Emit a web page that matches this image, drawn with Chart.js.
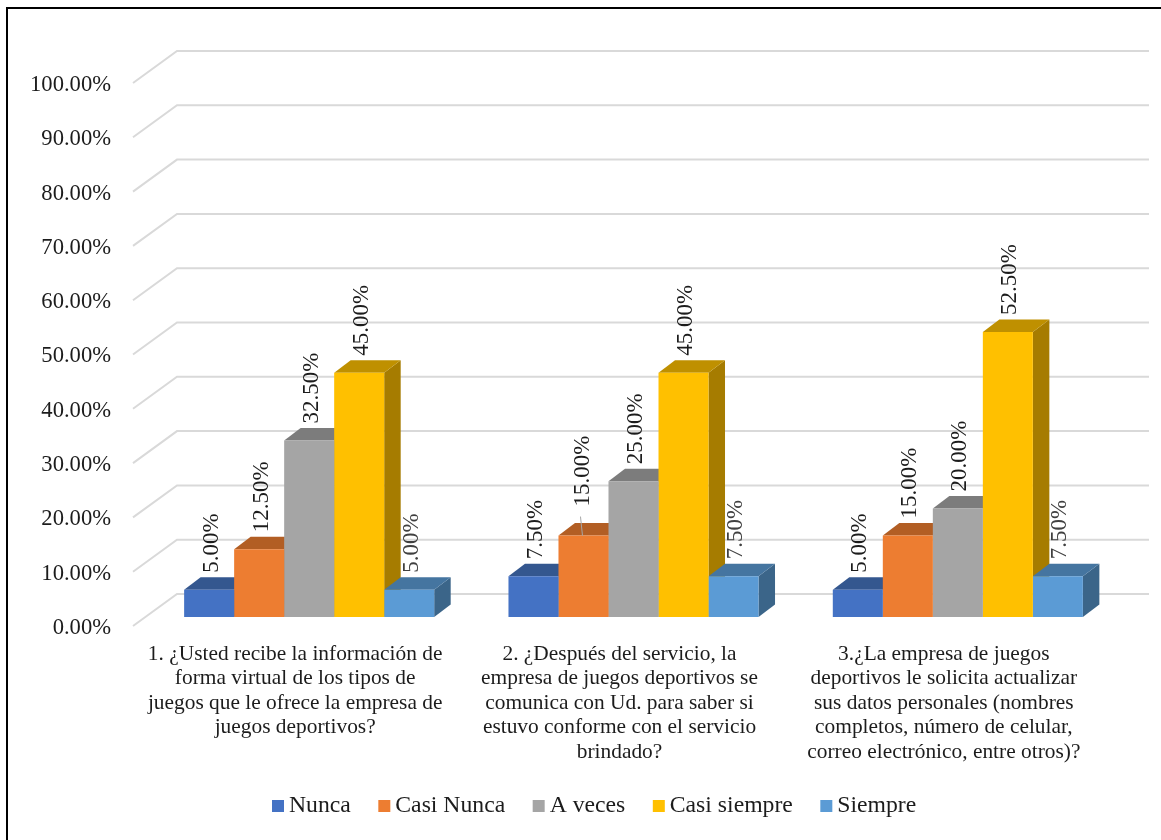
<!DOCTYPE html>
<html>
<head>
<meta charset="utf-8">
<title>Encuesta</title>
<script src="https://cdn.jsdelivr.net/npm/chart.js@4"></script>
<style>
    html, body { margin: 0; padding: 0; background: #fff; overflow: hidden; }
    canvas { display: block; }
</style>
</head>
<body>
<canvas id="bars" width="1161" height="840"></canvas>
<script>
// categories and series, in percent
const categories = [
    ['1. ¿Usted recibe la información de', 'forma virtual de los tipos de', 'juegos que le ofrece la empresa de', 'juegos deportivos?'],
    ['2. ¿Después del servicio, la', 'empresa de juegos deportivos se', 'comunica con Ud. para saber si', 'estuvo conforme con el servicio', 'brindado?'],
    ['3.¿La empresa de juegos', 'deportivos le solicita actualizar', 'sus datos personales (nombres', 'completos, número de celular,', 'correo electrónico, entre otros)?']
];
const nunca = [5, 7.5, 5];
const casiNunca = [12.5, 15, 15];
const aVeces = [32.5, 25, 20];
const casiSiempre = [45, 45, 52.5];
const siempre = [5, 7.5, 7.5];

const FONT = '"Liberation Serif", "Times New Roman", serif';
const TEXT = '#1c1c1c';
const DEPTH_X = 16.5, DEPTH_Y = 12.5;

function series(label, data, color, top, side) {
    return { label, data, backgroundColor: color, topColor: top, sideColor: side };
}

// 3d look: walls, bar sides and tops go under the flat bars of the library
const depthPlugin = {
    id: 'depth',
    beforeDatasetsDraw(chart) {
        const ctx = chart.ctx;
        const y = chart.scales.y;
        ctx.save();
        // frame, only top and left fall inside the canvas
        ctx.fillStyle = '#000';
        ctx.fillRect(6, 7, 1155, 2);
        ctx.fillRect(6, 7, 2, 833);
        // grid lines, front edge then along the back wall
        ctx.strokeStyle = '#d9d9d9';
        ctx.lineWidth = 2;
        y.ticks.forEach(t => {
            const py = y.getPixelForValue(t.value);
            ctx.beginPath();
            ctx.moveTo(133, py + 9);
            ctx.lineTo(177, py - 23);
            ctx.lineTo(1149, py - 23);
            ctx.stroke();
        });
        // left to right so the next bar covers the side of the previous one
        chart.data.labels.forEach((_, i) => {
            chart.data.datasets.forEach((ds, d) => {
                const bar = chart.getDatasetMeta(d).data[i];
                const half = bar.width / 2;
                const l = bar.x - half, r = bar.x + half;
                ctx.fillStyle = ds.sideColor;
                ctx.beginPath();
                ctx.moveTo(r, bar.y);
                ctx.lineTo(r + DEPTH_X, bar.y - DEPTH_Y);
                ctx.lineTo(r + DEPTH_X, bar.base - DEPTH_Y);
                ctx.lineTo(r, bar.base);
                ctx.fill();
                ctx.fillStyle = ds.topColor;
                ctx.beginPath();
                ctx.moveTo(l, bar.y);
                ctx.lineTo(l + DEPTH_X, bar.y - DEPTH_Y);
                ctx.lineTo(r + DEPTH_X, bar.y - DEPTH_Y);
                ctx.lineTo(r, bar.y);
                ctx.fill();
            });
        });
        ctx.restore();
    },
    afterDatasetsDraw(chart) {
        const ctx = chart.ctx;
        ctx.save();
        // value labels, turned to read upwards
        ctx.font = '23px ' + FONT;
        ctx.textAlign = 'left';
        ctx.textBaseline = 'middle';
        chart.data.datasets.forEach((ds, d) => {
            chart.getDatasetMeta(d).data.forEach((bar, i) => {
                // this one sits higher, with a leader line
                const moved = d === 1 && i === 1;
                ctx.fillStyle = d === 4 ? '#404040' : TEXT;
                ctx.save();
                ctx.translate(bar.x + (moved ? -1 : 2.5), bar.y - (moved ? 29 : 17));
                ctx.rotate(-Math.PI / 2);
                ctx.fillText(ds.data[i].toFixed(2) + '%', 0, 0);
                ctx.restore();
                if (moved) {
                    ctx.strokeStyle = '#a6a6a6';
                    ctx.lineWidth = 1;
                    ctx.beginPath();
                    ctx.moveTo(bar.x - 3, bar.y - 19);
                    ctx.lineTo(bar.x - 1, bar.y);
                    ctx.stroke();
                }
            });
        });
        // legend with a tight gap between swatch and text
        ctx.font = '23.7px ' + FONT;
        ctx.textBaseline = 'middle';
        let x = 272;
        chart.data.datasets.forEach(ds => {
            ctx.fillStyle = ds.backgroundColor;
            ctx.fillRect(x, 800, 12, 12);
            ctx.fillStyle = TEXT;
            ctx.fillText(ds.label, x + 17, 806);
            x += 17 + ctx.measureText(ds.label).width + 27.5;
        });
        ctx.restore();
    }
};

new Chart(document.getElementById('bars'), {
    type: 'bar',
    data: {
        labels: categories,
        datasets: [
            series('Nunca', nunca, '#4472C4', '#34578F', '#2F4F85'),
            series('Casi Nunca', casiNunca, '#ED7D31', '#B25E24', '#A05520'),
            series('A veces', aVeces, '#A5A5A5', '#7C7C7C', '#707070'),
            series('Casi siempre', casiSiempre, '#FFC000', '#BF9000', '#A67C00'),
            series('Siempre', siempre, '#5B9BD5', '#4575A0', '#3B6589')
        ]
    },
    plugins: [depthPlugin],
    options: {
        responsive: false,
        animation: false,
        devicePixelRatio: 1,
        layout: { padding: { left: 0, right: 41, top: 74, bottom: 0 } },
        datasets: { bar: { categoryPercentage: 0.771, barPercentage: 1 } },
        plugins: { legend: { display: false }, tooltip: { enabled: false } },
        scales: {
            x: {
                border: { display: false },
                grid: { display: false, drawTicks: false },
                afterFit(scale) { scale.height = 223; },
                ticks: {
                    color: TEXT,
                    autoSkip: false,
                    maxRotation: 0,
                    padding: 25,
                    labelOffset: -14,
                    font: { family: FONT, size: 21.4, lineHeight: 1.145 }
                }
            },
            y: {
                min: 0,
                max: 100,
                border: { display: false },
                grid: { display: false, drawTicks: false },
                afterFit(scale) { scale.width = 147; },
                ticks: {
                    stepSize: 10,
                    color: TEXT,
                    padding: 36,
                    labelOffset: 11,
                    font: { family: FONT, size: 22.6 },
                    callback: v => v.toFixed(2) + '%'
                }
            }
        }
    }
});
</script>
</body>
</html>
